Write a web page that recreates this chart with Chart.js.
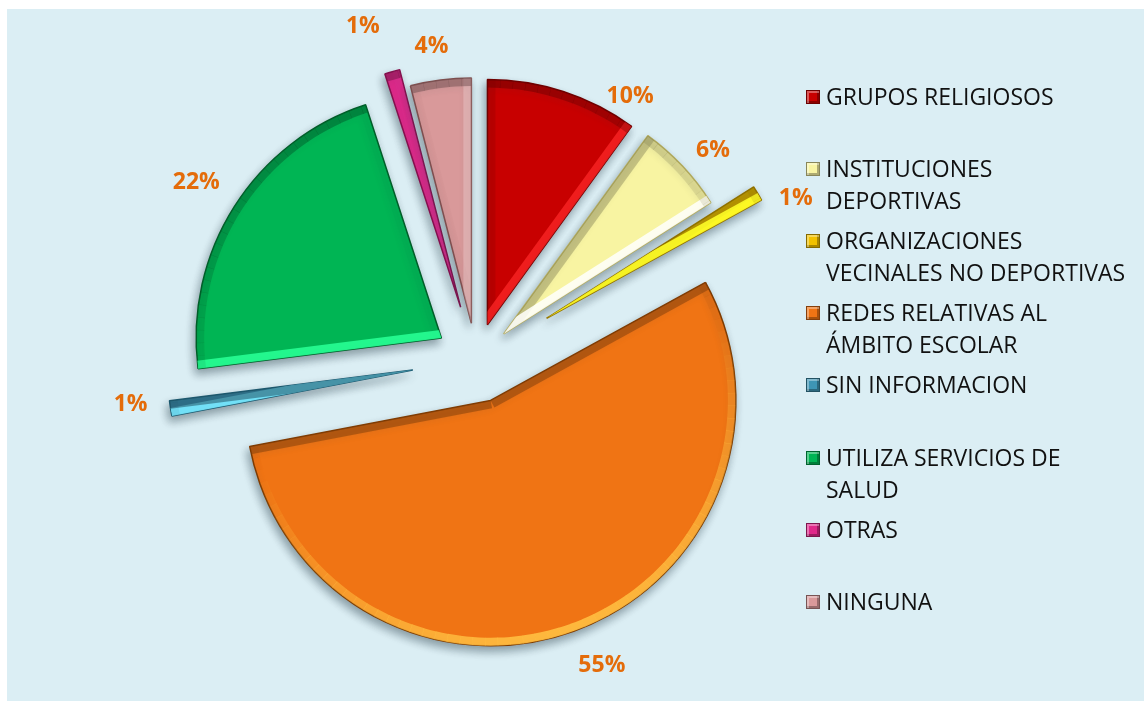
<!DOCTYPE html>
<html lang="es">
<head>
<meta charset="utf-8">
<title>Redes de apoyo</title>
<script src="https://cdn.jsdelivr.net/npm/chart.js@4.4.1/dist/chart.umd.min.js"></script>
<style>
  html, body { margin: 0; padding: 0; background: #fff; }
  #wrap { position: relative; width: 1144px; height: 701px; overflow: hidden; }
  #fondo { position: absolute; left: 7px; top: 9px; right: 0; bottom: 0; background: #dbeef4; }
  #grafico { position: absolute; left: 0; top: 0; }
  #leyenda { position: absolute; left: 806px; top: 0; font-family: 'Open Sans', sans-serif; font-size: 23px; line-height: 32px; color: #111; }
  .item { position: absolute; left: 0; white-space: nowrap; }
  .caja { position: absolute; left: 0; top: 10px; width: 14px; height: 14px; box-sizing: border-box; border: 1px solid rgba(0,0,0,.45);
          box-shadow: inset 2px 2px 0 rgba(255,255,255,.35), inset -2px -2px 0 rgba(0,0,0,.3); }
  .texto { position: absolute; left: 20px; top: 0; }
</style>
</head>
<body>
<div id="wrap">
  <div id="fondo"></div>
  <canvas id="grafico" width="1144" height="701"></canvas>
  <div id="leyenda"></div>
</div>
<script>
// datos del grafico
const categorias = [
  ['GRUPOS RELIGIOSOS'],
  ['INSTITUCIONES', 'DEPORTIVAS'],
  ['ORGANIZACIONES', 'VECINALES NO DEPORTIVAS'],
  ['REDES RELATIVAS AL', 'ÁMBITO ESCOLAR'],
  ['SIN INFORMACION'],
  ['UTILIZA SERVICIOS DE', 'SALUD'],
  ['OTRAS'],
  ['NINGUNA']
];
const porcentajes = [10, 6, 1, 55, 1, 22, 1, 4];

// estilos
const colores = ['#c80000', '#f8f4a2', '#f2c200', '#f07414', '#3e95b5', '#00b554', '#e0288a', '#d9999a'];
const bordes  = ['#700000', '#b5ad5c', '#957400', '#7f3b00', '#1d5a70', '#005e29', '#85104d', '#7f4f4f'];
const separacion = [37, 38, 82, 43, 64, 41, 55, 37];      // px que se aleja cada porcion
const giroRotulo = [14, 2, 5, -3, 2, 0, -3, -1];           // grados
const distRotulo = [24, 33, 31, 42, 39, 45, 52, 34];       // px fuera del borde
const colorRotulo = '#e46c0a';

function rgb(hex) {
  return [1, 3, 5].map(k => parseInt(hex.substr(k, 2), 16));
}

// separa las porciones del centro (explode)
const separar = {
  id: 'separar',
  beforeDatasetsDraw(chart) {
    const ca = chart.chartArea;
    const cx = (ca.left + ca.right) / 2;
    const cy = (ca.top + ca.bottom) / 2;
    chart.getDatasetMeta(0).data.forEach((arc, i) => {
      const mid = (arc.startAngle + arc.endAngle) / 2;
      arc.x = cx + separacion[i] * Math.cos(mid);
      arc.y = cy + separacion[i] * Math.sin(mid);
    });
    const ctx = chart.ctx;
    ctx.save();
    ctx.shadowColor = 'rgba(40,60,70,0.45)';
    ctx.shadowBlur = 9;
    ctx.shadowOffsetX = -2;
    ctx.shadowOffsetY = 5;
  },
  afterDatasetsDraw(chart) {
    chart.ctx.restore();
  }
};

// bisel tipo Excel: banda clara/oscura segun la orientacion del borde
const bisel = {
  id: 'bisel',
  afterDatasetsDraw(chart) {
    const ctx = chart.ctx;
    const lx = 0.3, ly = 0.954; // luz desde abajo
    chart.getDatasetMeta(0).data.forEach((arc, i) => {
      const c = rgb(colores[i]);
      const claro = c.map(v => Math.min(255, Math.round(v * 1.3 + 40)));
      const oscuro = c.map(v => Math.round(v * 0.55));
      const tono = (nx, ny) => {
        const d = nx * lx + ny * ly;
        const t = d >= 0 ? claro : oscuro;
        const al = d >= 0 ? 0.9 * d : 0.55 * -d;
        return 'rgba(' + t.join(',') + ',' + al.toFixed(3) + ')';
      };
      const {x, y, outerRadius: r, startAngle: s, endAngle: e} = arc;
      ctx.save();
      ctx.beginPath();
      ctx.moveTo(x, y);
      ctx.arc(x, y, r, s, e);
      ctx.closePath();
      ctx.clip();
      ctx.lineWidth = 16;
      ctx.lineCap = 'butt';
      // borde inicial
      ctx.strokeStyle = tono(Math.sin(s), -Math.cos(s));
      ctx.beginPath(); ctx.moveTo(x, y); ctx.lineTo(x + r * Math.cos(s), y + r * Math.sin(s)); ctx.stroke();
      // borde final
      ctx.strokeStyle = tono(-Math.sin(e), Math.cos(e));
      ctx.beginPath(); ctx.moveTo(x, y); ctx.lineTo(x + r * Math.cos(e), y + r * Math.sin(e)); ctx.stroke();
      // arco exterior por tramos
      const paso = Math.PI / 60;
      for (let a = s; a < e; a += paso) {
        const b = Math.min(e, a + paso);
        const m = (a + b) / 2;
        ctx.strokeStyle = tono(Math.cos(m), Math.sin(m));
        ctx.beginPath(); ctx.arc(x, y, r, a, b + 0.002); ctx.stroke();
      }
      ctx.restore();
    });
  }
};

// porcentajes fuera de cada porcion
const rotulos = {
  id: 'rotulos',
  afterDatasetsDraw(chart) {
    const ctx = chart.ctx;
    const valores = chart.data.datasets[0].data;
    ctx.save();
    ctx.font = 'bold 23px "Open Sans", sans-serif';
    ctx.fillStyle = colorRotulo;
    ctx.textAlign = 'center';
    ctx.textBaseline = 'middle';
    chart.getDatasetMeta(0).data.forEach((arc, i) => {
      const mid = (arc.startAngle + arc.endAngle) / 2 + giroRotulo[i] * Math.PI / 180;
      const d = arc.outerRadius + distRotulo[i];
      ctx.fillText(valores[i] + '%', arc.x + d * Math.cos(mid), arc.y + d * Math.sin(mid));
    });
    ctx.restore();
  }
};

new Chart(document.getElementById('grafico'), {
  type: 'pie',
  data: {
    labels: categorias,
    datasets: [{
      data: porcentajes,
      backgroundColor: colores,
      borderColor: bordes,
      borderWidth: 1.5,
      clip: false
    }]
  },
  options: {
    responsive: false,
    animation: false,
    events: [],
    layout: { padding: { left: 150, right: 342, top: 114, bottom: 95 } },
    plugins: { legend: { display: false }, tooltip: { enabled: false } }
  },
  plugins: [separar, bisel, rotulos]
});

// leyenda a la derecha
const leyenda = document.getElementById('leyenda');
categorias.forEach((lineas, i) => {
  const item = document.createElement('div');
  item.className = 'item';
  item.style.top = (80 + i * 72.1) + 'px';
  const caja = document.createElement('div');
  caja.className = 'caja';
  caja.style.background = colores[i];
  const texto = document.createElement('div');
  texto.className = 'texto';
  lineas.forEach((l, k) => {
    if (k > 0) texto.appendChild(document.createElement('br'));
    texto.appendChild(document.createTextNode(l));
  });
  item.appendChild(caja);
  item.appendChild(texto);
  leyenda.appendChild(item);
});
</script>
</body>
</html>
